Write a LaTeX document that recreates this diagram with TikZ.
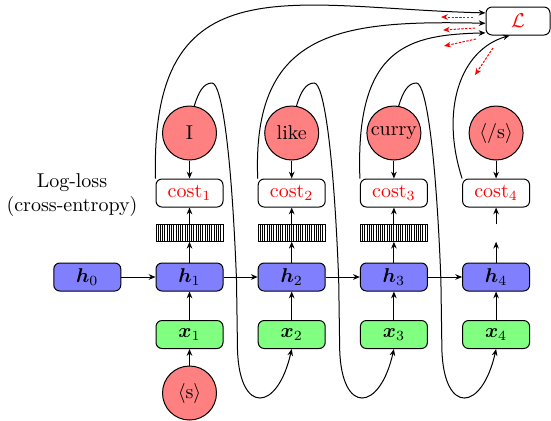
\documentclass[tikz,border=0pt]{standalone}
\usepackage{amsmath,bm}
\usetikzlibrary{arrows.meta}
\begin{document}
\begin{tikzpicture}[x=0.5pt,y=-0.5pt,line width=0.5pt,
  box/.style={draw, rounded corners=3pt, minimum width=33.5pt, minimum height=14pt, inner sep=0pt},
  hbox/.style={box, fill=blue!50},
  xbox/.style={box, fill=green!50},
  cbox/.style={box, fill=white, text=red},
  word/.style={circle, draw, fill=red!50, minimum size=27pt, inner sep=0pt},
  vecbar/.style={draw, minimum width=33.5pt, minimum height=8.25pt, inner sep=0pt,
    path picture={\foreach \k in {1,...,29}{\draw[line width=0.5pt]
      ([xshift=\k*1.117pt]path picture bounding box.south west) --
      ([xshift=\k*1.117pt]path picture bounding box.north west);}}},
  nobar/.style={minimum width=33.5pt, minimum height=8.25pt, inner sep=0pt},
  conn/.style={-{Stealth[length=3.4pt,width=2.8pt]}},
  grad/.style={red, dash pattern=on 1.2pt off 0.7pt, -{Stealth[length=3.4pt,width=2.8pt]}}
]
\useasboundingbox (0,0) rectangle (551,420);

% hidden states
\node[hbox] (h0) at (87.3,277) {$\bm{h}_0$};
\node[hbox] (h1) at (189.5,277) {$\bm{h}_1$};
\node[hbox] (h2) at (291.7,277) {$\bm{h}_2$};
\node[hbox] (h3) at (393.9,277) {$\bm{h}_3$};
\node[hbox] (h4) at (496.1,277) {$\bm{h}_4$};
% inputs
\node[xbox] (x1) at (189.5,334.5) {$\bm{x}_1$};
\node[xbox] (x2) at (291.7,334.5) {$\bm{x}_2$};
\node[xbox] (x3) at (393.9,334.5) {$\bm{x}_3$};
\node[xbox] (x4) at (496.1,334.5) {$\bm{x}_4$};
% bars
\node[vecbar] (b1) at (189.5,233) {};
\node[vecbar] (b2) at (291.7,233) {};
\node[vecbar] (b3) at (393.9,233) {};
\node[nobar] (b4) at (496.1,233) {};
% costs
\node[cbox] (c1) at (189.5,193) {cost$_1$};
\node[cbox] (c2) at (291.7,193) {cost$_2$};
\node[cbox] (c3) at (393.9,193) {cost$_3$};
\node[cbox] (c4) at (496.1,193) {cost$_4$};
% words
\node[word] (w1) at (189.5,133) {I};
\node[word] (w2) at (291.7,133) {like};
\node[word] (w3) at (393.9,133) {curry};
\node[word] (w4) at (496.1,133) {$\langle$/s$\rangle$};
\node[word] (s) at (189.5,393) {$\langle$s$\rangle$};
% loss
\node[box, minimum width=32pt, text=red, fill=white] (L) at (518,21) {$\mathcal{L}$};
% label
\node[align=center] (lbl) at (72,195) {Log-loss\\(cross-entropy)};

% connectors
\draw[conn] (h0) -- (h1);
\draw[conn] (h1) -- (h2);
\draw[conn] (h2) -- (h3);
\draw[conn] (h3) -- (h4);
\foreach \i in {1,...,4}{
  \draw[conn] (x\i) -- (h\i);
  \draw[conn] (h\i) -- (b\i);
  \draw[conn] (b\i) -- (c\i);
  \draw[conn] (w\i) -- (c\i);
}
\draw[conn] (s) -- (x1);

% feedback loops word -> next input
\foreach \i/\j/\cx in {1/2/189.5, 2/3/291.7, 3/4/393.9}{
  \draw[conn] (w\i.80) .. controls (\cx+9,92) and (\cx+14,83) .. (\cx+22.5,83)
    .. controls (\cx+32,83) and (\cx+42,150) .. (\cx+47,280)
    -- (\cx+48,350)
    .. controls (\cx+50,415) and (\cx+88,412) .. (x\j.south);
}

% costs -> loss
\draw[conn] (c1.north west) .. controls (150,-40) and (290,8) .. (L.166);
\draw[conn] (c2.north west) .. controls (252,30) and (340,20) .. (L.184);
\draw[conn] (c3.north west) .. controls (355,45) and (410,35) .. (L.200);
\draw[conn] (c4.north west) .. controls (440,110) and (460,50) .. (L.240);

% gradient arrows
\coordinate (g1s) at (473,17); \coordinate (g1e) at (441,17);
\coordinate (g2s) at (475,28); \coordinate (g2e) at (443,30);
\coordinate (g3s) at (476,39); \coordinate (g3e) at (444,46);
\coordinate (g4s) at (493,48); \coordinate (g4e) at (475,75);
\draw[grad] (g1s) -- (g1e);
\draw[grad] (g2s) -- (g2e);
\draw[grad] (g3s) -- (g3e);
\draw[grad] (g4s) -- (g4e);
\end{tikzpicture}
\end{document}
